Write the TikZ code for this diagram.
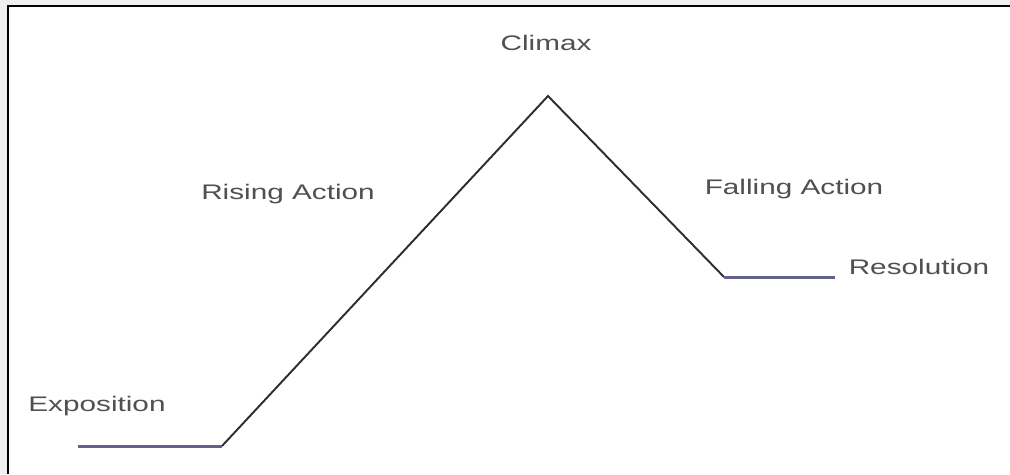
\documentclass[tikz,border=0pt]{standalone}
\usepackage{fontspec}
\setmainfont{Liberation Sans}
\definecolor{bggray}{HTML}{F0F0F0}
\definecolor{txtgray}{HTML}{505050}
\definecolor{riseline}{HTML}{2E2E2E}
\definecolor{flatline}{HTML}{62628F}
\begin{document}
\begin{tikzpicture}[x=0.02cm,y=-0.02cm,
  lbl/.style={inner sep=0pt,outer sep=0pt,anchor=base,text=txtgray,font=\fontsize{12}{14}\selectfont},
  slope/.style={draw=riseline,line width=1.1pt,line join=miter},
  flat/.style={draw=flatline,line width=1.7pt}]
\useasboundingbox (0,0) rectangle (1010,474);
\fill[bggray] (0,0) rectangle (1010,474);
\fill[white] (8,6) rectangle (1010,474);
\draw[black,line width=1.2pt] (8,474) -- (8,6) -- (1010,6);
% key points
\coordinate (e0) at (78,446);
\coordinate (e1) at (222,446);
\coordinate (top) at (548,96);
\coordinate (r0) at (724,277);
\coordinate (r1) at (835,277);
\draw[flat] (e0) -- (e1);
\draw[slope] (e1) -- (top) -- (r0);
\draw[flat] (r0) -- (r1);
% labels
\node[lbl] (climax) at (546,50.5) {\scalebox{1.41}[1]{Climax}};
\node[lbl] (rising) at (288,199.5) {\scalebox{1.41}[1]{Rising Action}};
\node[lbl] (falling) at (794,194.5) {\scalebox{1.41}[1]{Falling Action}};
\node[lbl] (resolution) at (919,274.5) {\scalebox{1.41}[1]{Resolution}};
\node[lbl] (exposition) at (97,411.5) {\scalebox{1.41}[1]{Exposition}};
\end{tikzpicture}
\end{document}
